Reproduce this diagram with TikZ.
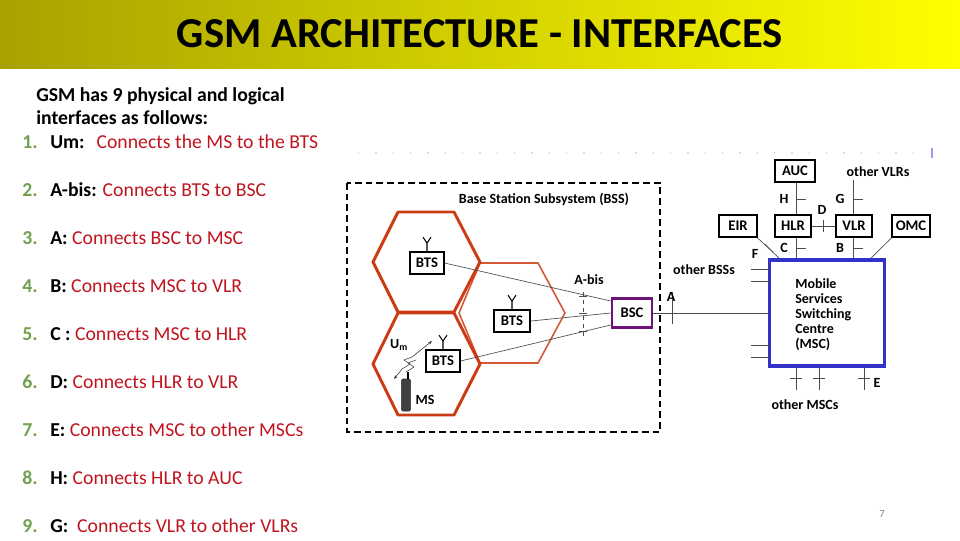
\documentclass[tikz,border=0pt]{standalone}
\usepackage{fontspec}
\setmainfont{Carlito}
\usetikzlibrary{positioning,arrows.meta}
\definecolor{olive}{RGB}{168,162,0}
\definecolor{topyel}{RGB}{255,255,0}
\definecolor{numgreen}{RGB}{112,160,80}
\definecolor{descred}{RGB}{192,20,30}
\definecolor{hexred}{RGB}{204,60,20}
\definecolor{mscblue}{RGB}{50,50,200}
\definecolor{bscpurple}{RGB}{110,20,120}
\tikzset{
  box/.style={draw,line width=1.3pt,fill=white,inner sep=1pt,font=\fontsize{11}{12}\selectfont\bfseries,minimum height=16.5pt},
  lbl/.style={inner sep=0pt,font=\fontsize{10.5}{11}\selectfont\bfseries},
  wire/.style={draw=black!70,line width=0.5pt},
  hex/.style={draw=hexred,line width=2.2pt,line join=round},
  num/.style={anchor=base west,inner sep=0pt,text=numgreen,font=\fontsize{14.8}{17}\selectfont\bfseries},
  key/.style={anchor=base west,inner sep=0pt,font=\fontsize{14.8}{17}\selectfont},
}
\begin{document}
\begin{tikzpicture}[x=0.75pt,y=-0.75pt]
\useasboundingbox (0,0) rectangle (960,540);
% header
\shade[left color=olive,right color=topyel] (0,0) rectangle (960,68);
\node[inner sep=0pt,font=\fontsize{32}{34}\selectfont\bfseries] (title) at (480,34) {GSM ARCHITECTURE - INTERFACES};

% left list
\node[anchor=base west,inner sep=0pt,font=\fontsize{14.8}{17}\selectfont\bfseries] (intro1) at (36,101) {GSM has 9 physical and logical};
\node[anchor=base west,inner sep=0pt,font=\fontsize{14.8}{17}\selectfont\bfseries] (intro2) at (36,124) {interfaces as follows:};
\foreach \i/\k/\t [count=\n] in {
  1/Um:  /Connects the MS to the BTS,
  2/A-bis:/Connects BTS to BSC,
  3/A:/Connects BSC to MSC,
  4/B:/Connects MSC to VLR,
  5/C :/Connects MSC to HLR,
  6/D:/Connects HLR to VLR,
  7/E:/Connects MSC to other MSCs,
  8/H:/Connects HLR to AUC,
  9/G: /Connects VLR to other VLRs}{
  \node[num] (n\i) at (22,{148+48*(\n-1)}) {\i.};
  \node[key] (k\i) at (50,{148+48*(\n-1)}) {\textbf{\k} \textcolor{descred}{\t}};
}

% faint top rule
\draw[black!15,dash pattern=on 1pt off 12pt,line width=2pt] (358,153) -- (928,153);
\draw[blue!40,line width=1pt] (932,148) -- (932,158);

% BSS
\draw[dashed,line width=1.2pt,dash pattern=on 5pt off 3pt] (347,183) rectangle (660,432);
\node[lbl] (bsslbl) at (544,199) {Base Station Subsystem (BSS)};
\draw[hex,line width=1.2pt,draw=hexred!85] (459,313) -- (480,263) -- (538,263) -- (565,313) -- (538,363) -- (480,363) -- cycle;
\draw[hex] (373,262) -- (398,212) -- (454,212) -- (480,262) -- (454,312) -- (398,312) -- cycle;
\draw[hex] (373,364) -- (398,313) -- (454,313) -- (480,364) -- (454,415) -- (398,415) -- cycle;

\node[box,minimum width=25pt] (bts1) at (427,263) {BTS};
\node[box,minimum width=27pt] (bts2) at (512,321) {BTS};
\node[box,minimum width=25pt] (bts3) at (443,361) {BTS};
\node[box,draw=bscpurple,line width=2pt,minimum width=30pt,minimum height=22pt] (bsc) at (632,313) {BSC};
\foreach \b in {bts1,bts2,bts3}{
  \draw[line width=0.8pt] (\b.north) -- ++(0,-8) -- ++(-4,-6);
  \draw[line width=0.8pt] (\b.north) ++(0,-8) -- ++(4,-6);
}
\draw[wire] (bts1.east) -- ([yshift=-3pt]bsc.north west);
\draw[wire] (bts2.east) -- (bsc.west);
\draw[wire] (bts3.east) -- ([yshift=3pt]bsc.south west);
\draw[wire,dashed] (583,292) -- (583,336);
\foreach \y in {296,313,331} \draw[wire] (579,\y) -- (587,\y);
\node[lbl] (abis) at (589,280) {A-bis};

% mobile station
\node[draw=black!80,fill=black!75,rounded corners=1pt,minimum width=7pt,minimum height=24pt,inner sep=0pt] (ms) at (406,395) {};
\draw[line width=0.8pt] (ms.north) ++(1.5pt,0) -- ++(0,-7);
\node[lbl] (mslbl) at (425,400) {MS};
\node[lbl] (um) at (399,345) {U\textsubscript{m}};
\draw[-{Stealth[length=3pt]},black!80] (412,357) -- (432,341);
\draw[-{Stealth[length=3pt]},black!80] (402,369) -- (394,379);
\draw[black!80] (412,357) -- (404,360) -- (410,364) -- (402,369);
\draw[black!80] (416,360) -- (408,363) -- (414,367) -- (406,372);

% core network
\node[draw=mscblue,line width=2.4pt,minimum width=86pt,minimum height=79.5pt] (msc) at (827,313) {};
\node[anchor=north west,inner sep=0pt,align=left,font=\fontsize{10.5}{11.3}\selectfont\bfseries] (msctxt) at (795,278) {Mobile\\Services\\Switching\\Centre\\(MSC)};
\node[box,minimum width=30pt] (auc) at (795,171) {AUC};
\node[box,minimum width=28pt] (eir) at (738,226) {EIR};
\node[box,minimum width=27pt] (hlr) at (793,226) {HLR};
\node[box,minimum width=27pt] (vlr) at (854,226) {VLR};
\node[box,minimum width=28pt] (omc) at (911,226) {OMC};
\node[lbl] (ovlr) at (878,172) {other VLRs};
\coordinate (vlrtop) at (853,180);

\draw[wire] (bsc.east) -- (msc.west);
\draw[wire] (672,292) -- (672,324);
\node[lbl] (alb) at (671,297) {A};
\draw[wire] (auc.south -| 796,0) -- (796,214);
\draw[wire] (796,238) -- (796,258);
\draw[wire] (vlrtop) -- (853,214);
\draw[wire] (853,238) -- (853,258);
\draw[wire] (hlr.east) -- (vlr.west);
\draw[wire] (823,220) -- (823,232);
\draw[wire] (eir.south east) -- (779,258);
\draw[wire] (765,244) -- (773,252);
\draw[wire] (omc.south west) -- (871,258);
\foreach \y in {199,248}{
  \draw[wire] (796,\y) -- (806,\y);
  \draw[wire] (853,\y) -- (863,\y);
}
\node[lbl] (hlb) at (784,199) {H};
\node[lbl] (clb) at (784,248) {C};
\node[lbl] (glb) at (840,199) {G};
\node[lbl] (blb) at (840,248) {B};
\node[lbl] (dlb) at (822,210) {D};
\node[lbl] (flb) at (755,254) {F};
\foreach \y in {269,281,345,357} \draw[wire] (751,\y) -- (770,\y);
\node[lbl] (obss) at (704,270) {other BSSs};
\foreach \x in {796,819,864}{
  \draw[wire] (\x,367) -- (\x,390);
  \draw[wire] (\x-6,378) -- (\x+6,378);
}
\node[lbl] (elb) at (877,383) {E};
\node[lbl] (omsc) at (805,405) {other MSCs};

\node[text=black!50,font=\fontsize{8}{9}\selectfont] (pg) at (882,514) {7};
\end{tikzpicture}
\end{document}
